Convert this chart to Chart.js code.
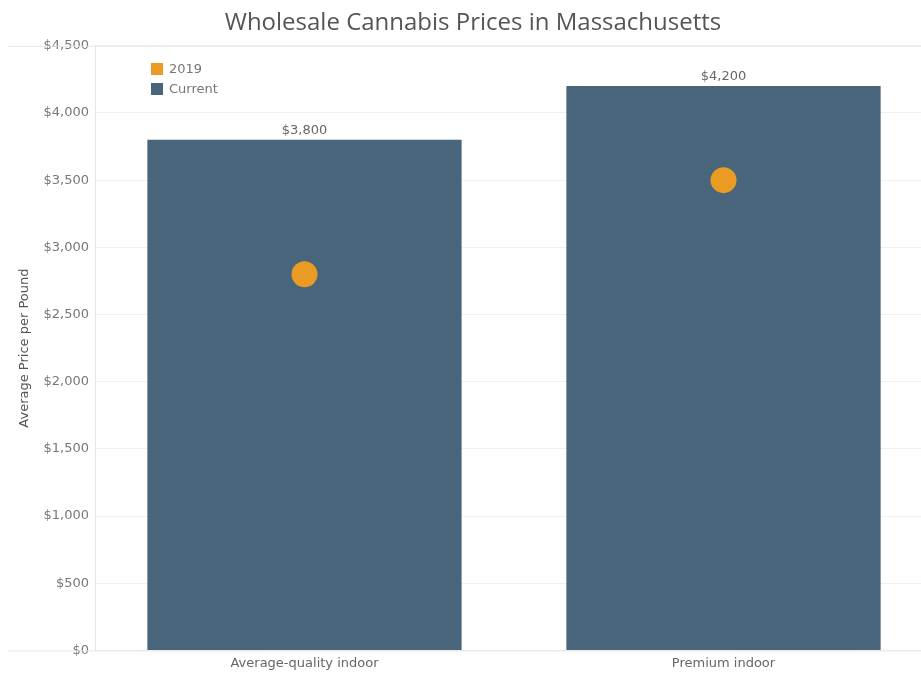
<!DOCTYPE html>
<html>
<head>
<meta charset="utf-8">
<script src="https://cdn.jsdelivr.net/npm/chart.js@4/dist/chart.umd.min.js"></script>
<style>
  html, body { margin: 0; padding: 0; background: #fff; overflow: hidden; }
  #wrap { width: 921px; height: 673px; overflow: hidden; }
  #inner { width: 946px; height: 673px; }
</style>
</head>
<body>
<div id="wrap"><div id="inner"><canvas id="prijsChart"></canvas></div></div>
<script>
const categories = ['Average-quality indoor', 'Premium indoor'];
const current = [3800, 4200];
const prices2019 = [2800, 3500];

const barColor = 'rgb(73, 101, 123)';
const dotColor = 'rgb(233, 155, 35)';
const smallFont = '"DejaVu Sans"';

const fmt = v => '$' + v.toLocaleString('en-US');

// legend inside the plot, top left
const legendInside = {
  id: 'legendInside',
  afterDraw(chart) {
    const ctx = chart.ctx;
    const items = [
      { label: chart.data.datasets[0].label, color: dotColor },
      { label: chart.data.datasets[1].label, color: barColor }
    ];
    ctx.save();
    ctx.font = '13px ' + smallFont;
    ctx.textBaseline = 'middle';
    items.forEach((it, i) => {
      const y = 69 + i * 20;
      ctx.fillStyle = it.color;
      ctx.fillRect(151, y - 6, 12, 12);
      ctx.fillStyle = '#777';
      ctx.fillText(it.label, 169, y + 1);
    });
    ctx.restore();
  }
};

// value labels above bars + pane border lines
const barLabels = {
  id: 'barLabels',
  afterDatasetsDraw(chart) {
    const ctx = chart.ctx;
    const meta = chart.getDatasetMeta(1);
    ctx.save();
    ctx.font = '13px ' + smallFont;
    ctx.fillStyle = '#666';
    ctx.textAlign = 'center';
    ctx.textBaseline = 'bottom';
    meta.data.forEach((bar, i) => {
      ctx.fillText(fmt(current[i]), bar.x, bar.y - 3);
    });
    const a = chart.chartArea;
    ctx.strokeStyle = '#e6e6e6';
    ctx.lineWidth = 1;
    ctx.beginPath();
    ctx.moveTo(8, a.top + 0.5); ctx.lineTo(chart.width, a.top + 0.5);
    ctx.moveTo(8, a.bottom + 0.5); ctx.lineTo(chart.width, a.bottom + 0.5);
    ctx.stroke();
    ctx.restore();
  }
};

const ctx = document.getElementById('prijsChart').getContext('2d');
new Chart(ctx, {
  data: {
    labels: categories,
    datasets: [
      {
        type: 'line',
        label: '2019',
        data: prices2019,
        showLine: false,
        pointRadius: 13,
        pointHoverRadius: 13,
        pointBackgroundColor: dotColor,
        pointBorderWidth: 0,
        order: 0
      },
      {
        type: 'bar',
        label: 'Current',
        data: current,
        backgroundColor: barColor,
        barPercentage: 0.75,
        categoryPercentage: 1,
        order: 1
      }
    ]
  },
  options: {
    responsive: true,
    maintainAspectRatio: false,
    animation: false,
    layout: { padding: { left: 0, right: 0, top: 0, bottom: -3 } },
    plugins: {
      legend: { display: false },
      tooltip: { enabled: false },
      title: {
        display: true,
        text: 'Wholesale Cannabis Prices in Massachusetts',
        color: '#555',
        font: { family: '"Open Sans"', size: 24, weight: 500 },
        padding: { top: 9, bottom: 8 }
      }
    },
    scales: {
      x: {
        grid: { display: false, drawTicks: false },
        border: { display: false },
        ticks: { color: '#666', font: { family: smallFont, size: 13 }, padding: 5 }
      },
      y: {
        min: 0,
        max: 4500,
        afterFit(scale) { scale.width = 95; },
        grid: { color: '#f0f0f0', drawTicks: false },
        border: { color: '#e6e6e6' },
        title: {
          display: true,
          text: 'Average Price per Pound',
          color: '#555',
          font: { family: smallFont, size: 13 },
          padding: { top: 17, bottom: 0 }
        },
        ticks: {
          stepSize: 500,
          color: '#777',
          font: { family: smallFont, size: 13 },
          padding: 6,
          callback: v => fmt(v)
        }
      }
    }
  },
  plugins: [legendInside, barLabels]
});
</script>
</body>
</html>
